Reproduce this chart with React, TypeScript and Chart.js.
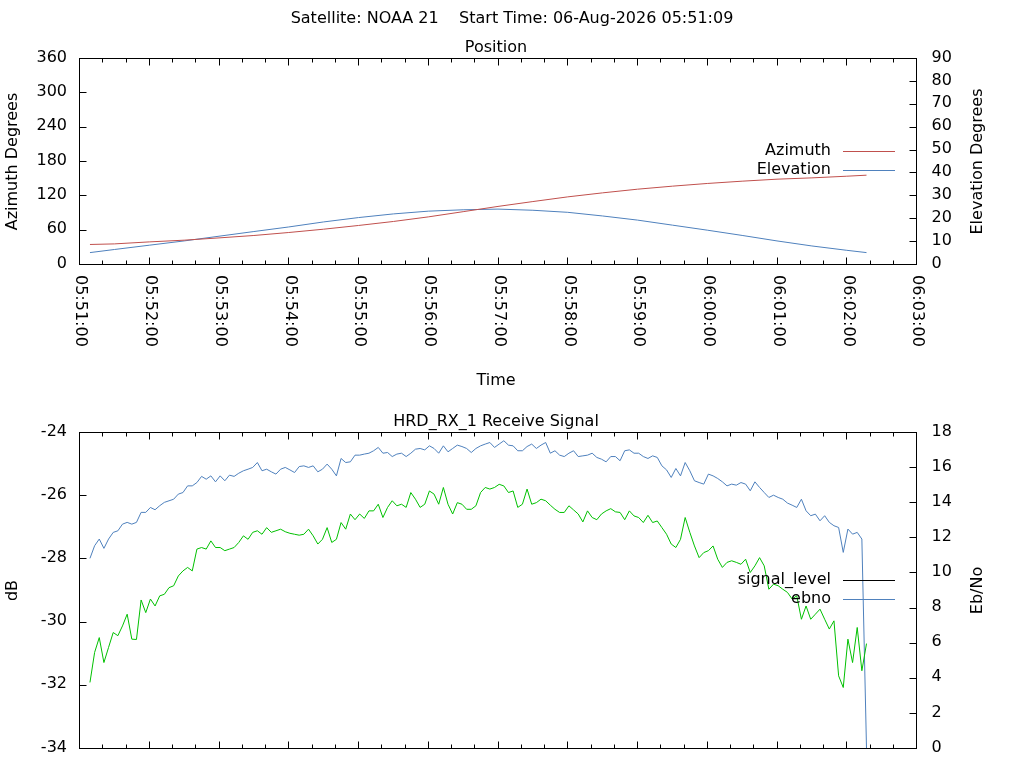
import React, { useEffect, useRef } from 'react'
import { Chart, registerables } from 'chart.js'
import type { ChartConfiguration } from 'chart.js'

Chart.register(...registerables)

const FONT = '16px "DejaVu Sans", sans-serif'
const RED = '#c0504d'
const BLUE = '#4f81bd'
const GREEN = '#00c000'

const TITLE = 'Satellite: NOAA 21    Start Time: 06-Aug-2026 05:51:09'

// time axis runs in seconds after 05:51:00
const timeTicks = [
  '05:51:00', '05:52:00', '05:53:00', '05:54:00', '05:55:00', '05:56:00', '05:57:00',
  '05:58:00', '05:59:00', '06:00:00', '06:01:00', '06:02:00', '06:03:00',
]

// Position
const posTimes = [9, 30, 60, 90, 120, 150, 180, 210, 240, 270, 300, 330, 360, 390, 420, 450, 480, 510, 540, 570, 600, 630, 660, 677]
const azimuth = [35.0, 36.0, 39.5, 42.5, 46.5, 50.7, 55.9, 61.7, 68.2, 75.2, 83.2, 92.3, 101.5, 110.0, 118.2, 125.2, 131.6, 136.9, 141.6, 145.6, 149.1, 151.4, 154.3, 156.1]
const elevation = [5.2, 6.55, 8.43, 10.3, 12.36, 14.4, 16.4, 18.6, 20.5, 22.1, 23.3, 23.9, 24.2, 23.7, 22.8, 21.2, 19.4, 17.2, 15.0, 12.7, 10.3, 8.1, 6.2, 5.2]
const azimuthTicks = [0, 60, 120, 180, 240, 300, 360]
const elevationTicks = [0, 10, 20, 30, 40, 50, 60, 70, 80, 90]

// HRD_RX_1 receive signal, one sample every 4 s from 05:51:09
const RX_START = 9
const RX_STEP = 4
const signalLevel = [
  -31.91, -30.96, -30.49, -31.28, -30.80, -30.33, -30.43, -30.12, -29.75, -30.54,
  -30.55, -29.30, -29.70, -29.27, -29.49, -29.17, -29.12, -28.91, -28.85, -28.54,
  -28.38, -28.27, -28.38, -27.69, -27.64, -27.69, -27.43, -27.64, -27.64, -27.74,
  -27.69, -27.64, -27.48, -27.27, -27.38, -27.16, -27.11, -27.22, -27.01, -27.16,
  -27.11, -27.06, -27.14, -27.19, -27.22, -27.25, -27.22, -27.06, -27.27, -27.53,
  -27.38, -27.01, -27.48, -27.38, -26.85, -27.06, -26.58,
  -26.76, -26.58, -26.72, -26.48, -26.48, -26.27, -26.69, -26.37, -26.16, -26.32,
  -26.27, -26.37, -25.90, -26.11, -26.37, -26.27, -25.85, -25.95, -26.27, -25.74,
  -26.27, -26.58, -26.22, -26.27, -26.43, -26.43, -26.32, -25.90, -25.74, -25.79,
  -25.74, -25.64, -25.69, -25.90, -25.85, -26.37, -26.27, -25.79, -26.27, -26.22,
  -26.11, -26.16, -26.30, -26.43, -26.53, -26.53, -26.32, -26.45, -26.58, -26.83,
  -26.48, -26.69, -26.76, -26.58, -26.48, -26.41,
  -26.51, -26.53, -26.76, -26.48, -26.64, -26.69, -26.85, -26.62, -26.85, -26.80,
  -27.01, -27.22, -27.53, -27.64, -27.38, -26.69, -27.16, -27.59, -27.96, -27.80,
  -27.74, -27.59, -28.01, -28.27, -28.11, -28.06, -28.11, -28.17, -28.01, -28.43,
  -28.22, -27.96, -28.22, -28.96, -28.80, -28.85, -28.96, -29.06, -29.27, -29.17,
  -29.91, -29.49, -29.91, -29.75, -29.59, -29.91, -30.22, -29.96, -31.70, -32.07,
  -30.54, -31.28, -30.17, -31.54, -30.68,
]
const ebno = [
  10.83, 11.55, 11.93, 11.40, 11.93, 12.31, 12.40, 12.78, 12.88, 12.78,
  12.88, 13.45, 13.45, 13.73, 13.60, 13.83, 14.02, 14.11, 14.20, 14.49,
  14.58, 14.96, 14.96, 15.15, 15.50, 15.34, 15.53, 15.19, 15.53, 15.25,
  15.57, 15.50, 15.68, 15.82, 15.91, 16.01, 16.29, 15.82, 15.91, 15.76,
  15.63, 15.91, 16.01, 15.87, 15.72, 16.06, 16.10, 16.01, 16.10, 15.76,
  15.91, 16.20, 15.91, 15.53, 16.52, 16.29, 16.33,
  16.71, 16.71, 16.77, 16.82, 16.96, 17.15, 16.82, 16.86, 16.63, 16.77,
  16.82, 16.63, 16.82, 17.05, 17.09, 17.01, 17.24, 17.09, 16.82, 17.24,
  16.90, 17.09, 17.28, 17.20, 17.09, 16.86, 17.09, 17.24, 17.34, 17.43,
  17.15, 17.34, 17.53, 17.28, 17.24, 16.96, 16.96, 17.20, 17.34, 17.09,
  17.28, 17.43, 16.82, 16.96, 16.71, 16.63, 16.82, 16.96, 16.63, 16.67,
  16.71, 16.82, 16.58, 16.48, 16.33, 16.63,
  16.63, 16.39, 16.96, 17.01, 16.82, 16.82, 16.63, 16.52, 16.67, 16.58,
  16.10, 15.87, 15.44, 15.95, 15.53, 16.29, 15.82, 15.25, 15.15, 15.06,
  15.63, 15.53, 15.38, 15.19, 14.96, 15.06, 15.00, 15.15, 15.06, 14.68,
  15.19, 14.87, 14.58, 14.30, 14.43, 14.30, 14.20, 13.98, 13.86, 13.73,
  14.20, 13.54, 13.26, 13.35, 12.97, 13.26, 12.88, 12.69, 12.59, 11.17,
  12.50, 12.21, 12.31, 11.93, 0,
]
const rxTimes = signalLevel.map((_, i) => RX_START + i * RX_STEP)
const dbTicks = [-34, -32, -30, -28, -26, -24]
const ebnoTicks = [0, 2, 4, 6, 8, 10, 12, 14, 16, 18]

type Key = { label: string; color: string }
type Frame = {
  title?: string
  subtitle: string
  timeLabels: boolean
  xTitle?: string
  yTitle: string
  y2Title: string
  yTicks: number[]
  y2Ticks: number[]
  keys: Key[]
}

const crisp = (v: number) => Math.floor(v) + 0.5

// gnuplot look: border, inward ticks, rotated time labels, key at the right
const makeFrame = (f: Frame) => ({
  id: 'gnuplotFrame',
  afterDraw(chart: Chart) {
    const { ctx, chartArea: a } = chart
    const { x, y, y2 } = chart.scales
    const left = crisp(a.left)
    const right = crisp(a.right)
    const top = crisp(a.top)
    const bottom = crisp(a.bottom)
    const midX = (left + right) / 2 - 2
    const midY = (top + bottom) / 2

    ctx.save()
    ctx.font = FONT
    ctx.fillStyle = '#000'
    ctx.strokeStyle = '#000'
    ctx.lineWidth = 1

    ctx.beginPath()
    for (let s = 0; s <= 720; s += 20) {
      const px = crisp(x.getPixelForValue(s))
      const len = s % 60 === 0 ? 7 : 4
      ctx.moveTo(px, bottom)
      ctx.lineTo(px, bottom - len)
      ctx.moveTo(px, top)
      ctx.lineTo(px, top + len)
    }
    f.yTicks.forEach((v) => {
      const py = crisp(y.getPixelForValue(v))
      ctx.moveTo(left, py)
      ctx.lineTo(left + 7, py)
    })
    f.y2Ticks.forEach((v) => {
      const py = crisp(y2.getPixelForValue(v))
      ctx.moveTo(right, py)
      ctx.lineTo(right - 7, py)
    })
    ctx.stroke()
    ctx.strokeRect(left, top, right - left, bottom - top)

    // tick labels
    ctx.textBaseline = 'middle'
    ctx.textAlign = 'right'
    f.yTicks.forEach((v) => ctx.fillText(String(v), left - 12.5, y.getPixelForValue(v) - 1))
    ctx.textAlign = 'left'
    f.y2Ticks.forEach((v) => ctx.fillText(String(v), right + 15, y2.getPixelForValue(v) - 1))

    if (f.timeLabels) {
      timeTicks.forEach((lab, i) => {
        ctx.save()
        ctx.translate(x.getPixelForValue(i * 60) + 1, bottom + 10.5)
        ctx.rotate(Math.PI / 2)
        ctx.fillText(lab, 0, 0)
        ctx.restore()
      })
    }

    // axis titles
    ctx.textAlign = 'center'
    ;[[f.yTitle, 13], [f.y2Title, right + 61]].forEach(([text, px]) => {
      ctx.save()
      ctx.translate(px as number, midY)
      ctx.rotate(-Math.PI / 2)
      ctx.fillText(text as string, 0, 0)
      ctx.restore()
    })

    ctx.textBaseline = 'alphabetic'
    if (f.title) ctx.fillText(f.title, chart.width / 2, 23)
    ctx.fillText(f.subtitle, midX, top - 7)
    if (f.xTitle) ctx.fillText(f.xTitle, midX, bottom + 120.5)

    // key
    f.keys.forEach((k, i) => {
      const ry = crisp(midY - 10 + i * 19)
      ctx.textAlign = 'right'
      ctx.textBaseline = 'middle'
      ctx.fillStyle = '#000'
      ctx.fillText(k.label, right - 85.5, ry - 1)
      ctx.strokeStyle = k.color
      ctx.beginPath()
      ctx.moveTo(right - 73.5, ry)
      ctx.lineTo(right - 21.5, ry)
      ctx.stroke()
    })
    ctx.restore()
  },
})

const baseOptions = (padding: object, yMin: number, yMax: number, y2Max: number) => ({
  animation: false as const,
  responsive: false,
  devicePixelRatio: 1,
  layout: { padding },
  elements: { line: { borderWidth: 1, tension: 0 }, point: { radius: 0 } },
  plugins: { legend: { display: false }, tooltip: { enabled: false } },
  scales: {
    x: { type: 'linear' as const, min: 0, max: 720, display: false },
    y: { type: 'linear' as const, min: yMin, max: yMax, display: false },
    y2: { type: 'linear' as const, min: 0, max: y2Max, display: false, position: 'right' as const },
  },
})

const positionConfig = (): ChartConfiguration<'line', { x: number; y: number }[]> => ({
  type: 'line',
  data: {
    datasets: [
      { label: 'Azimuth', data: posTimes.map((t, i) => ({ x: t, y: azimuth[i] })), borderColor: RED, yAxisID: 'y' },
      { label: 'Elevation', data: posTimes.map((t, i) => ({ x: t, y: elevation[i] })), borderColor: BLUE, yAxisID: 'y2' },
    ],
  },
  options: baseOptions({ left: 79.5, right: 107.5, top: 58.5, bottom: 135.5 }, 0, 360, 90),
  plugins: [
    makeFrame({
      title: TITLE,
      subtitle: 'Position',
      timeLabels: true,
      xTitle: 'Time',
      yTitle: 'Azimuth Degrees',
      y2Title: 'Elevation Degrees',
      yTicks: azimuthTicks,
      y2Ticks: elevationTicks,
      keys: [
        { label: 'Azimuth', color: RED },
        { label: 'Elevation', color: BLUE },
      ],
    }),
  ],
})

const signalConfig = (): ChartConfiguration<'line', { x: number; y: number }[]> => ({
  type: 'line',
  data: {
    datasets: [
      { label: 'signal_level', data: rxTimes.map((t, i) => ({ x: t, y: signalLevel[i] })), borderColor: GREEN, yAxisID: 'y' },
      { label: 'ebno', data: rxTimes.map((t, i) => ({ x: t, y: ebno[i] })), borderColor: BLUE, yAxisID: 'y2' },
    ],
  },
  options: baseOptions({ left: 79.5, right: 107.5, top: 32.5, bottom: 19.5 }, -34, -24, 18),
  plugins: [
    makeFrame({
      subtitle: 'HRD_RX_1 Receive Signal',
      timeLabels: false,
      yTitle: 'dB',
      y2Title: 'Eb/No',
      yTicks: dbTicks,
      y2Ticks: ebnoTicks,
      keys: [
        { label: 'signal_level', color: '#000' },
        { label: 'ebno', color: BLUE },
      ],
    }),
  ],
})

const Panel = ({ top, height, config }: { top: number; height: number; config: () => ChartConfiguration<'line', { x: number; y: number }[]> }) => {
  const canvasRef = useRef<HTMLCanvasElement | null>(null)

  useEffect(() => {
    if (!canvasRef.current) return
    const chart = new Chart(canvasRef.current, config())
    return () => chart.destroy()
  }, [])

  return (
    <canvas
      ref={canvasRef}
      width={1024}
      height={height}
      style={{ position: 'absolute', left: 0, top, width: 1024, height }}
    />
  )
}

const App = () => (
  <div style={{ position: 'absolute', left: 0, top: 0, width: 1024, height: 768, background: '#fff' }}>
    <Panel top={0} height={400} config={positionConfig} />
    <Panel top={400} height={368} config={signalConfig} />
  </div>
)

export default App
